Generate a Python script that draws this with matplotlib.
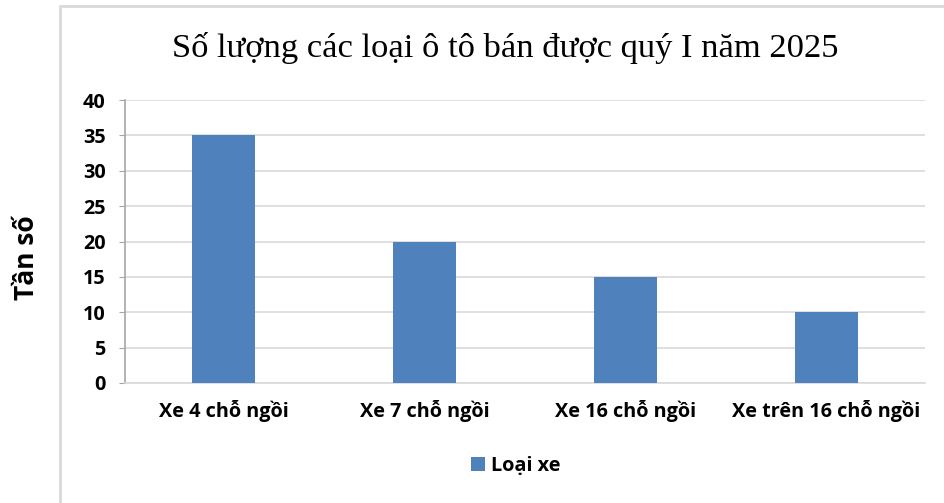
import matplotlib
matplotlib.use("Agg")
import matplotlib.pyplot as plt
from matplotlib.patches import Rectangle

# dữ liệu
categories = ["Xe 4 chỗ ngồi", "Xe 7 chỗ ngồi", "Xe 16 chỗ ngồi", "Xe trên 16 chỗ ngồi"]
values = [35, 20, 15, 10]
yticks = [0, 5, 10, 15, 20, 25, 30, 35, 40]
series_name = "Loại xe"

bar_color = "#4f81bd"
grid_color = "#d9d9d9"
sans = ["Open Sans", "DejaVu Sans"]

fig = plt.figure(figsize=(9.44, 5.03), dpi=100)

# khung biểu đồ
fig.patches.append(Rectangle((60 / 944, -0.1), 1.0, 1.1 - 6 / 503, transform=fig.transFigure,
                             fill=False, edgecolor=grid_color, linewidth=2))

ax = fig.add_axes([125 / 944, 1 - 383 / 503, 800 / 944, 283 / 503])
x = range(len(categories))
ax.bar(x, values, width=0.315, color=bar_color, label=series_name, zorder=3)

ax.set_xlim(-0.49, len(categories) - 0.51)
ax.set_ylim(0, 40)
ax.set_yticks(yticks)
ax.set_xticks(list(x))
ax.set_xticklabels(categories, family=sans, fontweight="bold", fontsize=14.3)
ax.set_yticklabels([str(t) for t in yticks], family=sans, fontweight="bold", fontsize=14.3)

ax.grid(axis="y", color=grid_color, linewidth=1.2, zorder=0)
for s in ["top", "right"]:
    ax.spines[s].set_visible(False)
ax.spines["left"].set_color("#a6a6a6")
ax.spines["left"].set_linewidth(1.2)
ax.spines["bottom"].set_color(grid_color)
ax.spines["bottom"].set_linewidth(1.2)
ax.tick_params(axis="y", length=4, color="#a6a6a6", pad=10)
ax.tick_params(axis="x", length=0, pad=12)

fig.text(505 / 944, 1 - 48 / 503, "Số lượng các loại ô tô bán được quý I năm 2025",
         family=["Liberation Serif", "DejaVu Serif"], fontsize=24.8, ha="center", va="center")
fig.text(26 / 944, 1 - 258 / 503, "Tần số", family=sans, fontweight="bold", fontsize=19,
         rotation=90, ha="center", va="center")

leg = fig.legend(loc="center", bbox_to_anchor=(516 / 944, 1 - 466 / 503), frameon=False,
                 handlelength=0.7, handleheight=0.7, handletextpad=0.3,
                 prop={"family": sans, "weight": "bold", "size": 14.3})

fig.savefig("out.png", dpi=100)
